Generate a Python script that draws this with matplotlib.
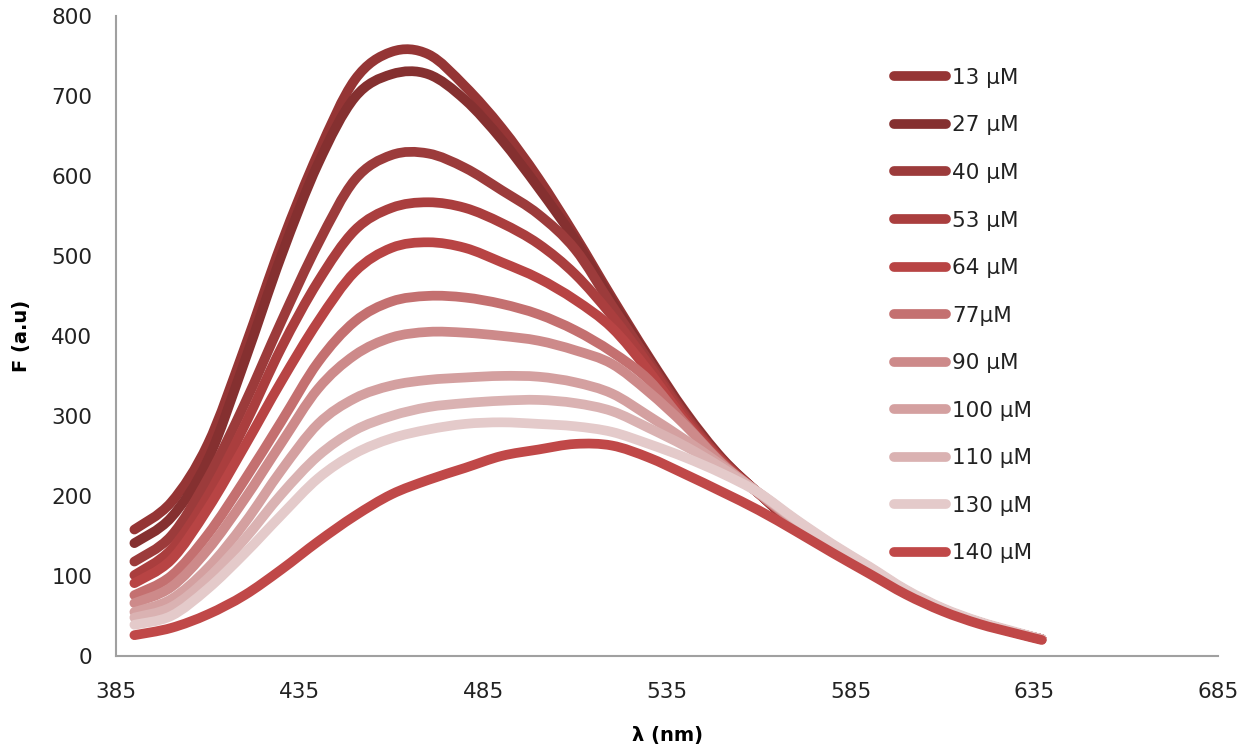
import matplotlib
matplotlib.use("Agg")
import matplotlib.pyplot as plt
from matplotlib.path import Path
from matplotlib.patches import PathPatch
from matplotlib.lines import Line2D

plt.rcParams['font.family'] = ['DejaVu Sans']

# wavelengths (nm)
wl = [390, 400, 410, 420, 430, 440, 450, 460, 470, 480, 490, 500, 510,
      520, 530, 540, 550, 560, 570, 580, 590, 600, 610, 620, 630, 637]

labels = ['13 µM', '27 µM', '40 µM', '53 µM', '64 µM', '77µM', '90 µM',
          '100 µM', '110 µM', '130 µM', '140 µM']

f13 = [158, 192, 265, 385, 515, 628, 720, 755, 752, 712, 660, 597, 525,
       448, 374, 305, 247, 203, 162, 132, 105, 79, 58, 42, 29, 21]
f27 = [141, 173, 245, 368, 500, 615, 698, 727, 727, 695, 645, 585, 520,
       444, 372, 303, 246, 203, 163, 133, 106, 79, 58, 42, 29, 21]
f40 = [118, 150, 222, 315, 418, 515, 595, 626, 628, 610, 582, 552, 508,
       438, 369, 301, 245, 203, 164, 134, 106, 80, 58, 42, 29, 21]
f53 = [101, 133, 200, 288, 385, 468, 532, 560, 567, 560, 541, 515, 477,
       425, 364, 298, 244, 203, 165, 134, 107, 80, 58, 42, 29, 21]
f64 = [91, 120, 184, 262, 343, 418, 480, 510, 517, 510, 492, 472, 445,
       410, 356, 294, 243, 203, 166, 135, 107, 80, 58, 42, 29, 21]
f77 = [76, 100, 152, 220, 293, 367, 418, 443, 450, 448, 440, 427, 407,
       380, 345, 290, 241, 203, 167, 136, 108, 81, 58, 42, 29, 21]
f90 = [66, 86, 133, 196, 266, 334, 376, 398, 405, 404, 400, 394, 382,
       365, 330, 288, 240, 203, 168, 137, 109, 81, 59, 42, 29, 21]
f100 = [55, 71, 110, 166, 232, 290, 322, 338, 345, 348, 350, 349, 342,
        328, 300, 270, 238, 204, 169, 138, 110, 82, 59, 42, 29, 21]
f110 = [48, 61, 97, 146, 202, 250, 282, 300, 311, 316, 319, 320, 316,
        306, 285, 262, 235, 204, 170, 139, 111, 82, 59, 42, 29, 21]
f130 = [39, 50, 84, 128, 176, 222, 253, 272, 283, 290, 292, 290, 287,
        280, 265, 248, 228, 204, 171, 140, 112, 83, 60, 43, 30, 21]
f140 = [26, 35, 52, 76, 108, 143, 175, 202, 220, 235, 250, 258, 265,
        263, 248, 227, 205, 182, 156, 129, 103, 77, 56, 40, 28, 20]

series = [f13, f27, f40, f53, f64, f77, f90, f100, f110, f130, f140]
colors = ['#953535', '#853030', '#9c3b3b', '#aa3e3e', '#b84444', '#c47070',
          '#cd8a8a', '#d4a0a0', '#dab2b2', '#e4caca', '#c04848']


def smooth_path(x, y):
    # smoothed line like a spreadsheet chart: cubic Bezier segments
    pts = list(zip(x, y))
    verts = [pts[0]]
    codes = [Path.MOVETO]
    n = len(pts)
    for i in range(n - 1):
        p0 = pts[max(i - 1, 0)]
        p1 = pts[i]
        p2 = pts[i + 1]
        p3 = pts[min(i + 2, n - 1)]
        c1 = (p1[0] + (p2[0] - p0[0]) / 6, p1[1] + (p2[1] - p0[1]) / 6)
        c2 = (p2[0] - (p3[0] - p1[0]) / 6, p2[1] - (p3[1] - p1[1]) / 6)
        verts += [c1, c2, p2]
        codes += [Path.CURVE4] * 3
    return Path(verts, codes)


fig = plt.figure(figsize=(12.57, 7.54), dpi=100)
ax = fig.add_axes([0.0923, 0.130, 0.8767, 0.849])

handles = []
for y, c, lab in zip(series, colors, labels):
    patch = PathPatch(smooth_path(wl, y), facecolor='none', edgecolor=c,
                      lw=7, capstyle='round', joinstyle='round')
    ax.add_patch(patch)
    handles.append(Line2D([], [], color=c, lw=7, solid_capstyle='round',
                          label=lab))

ax.set_xlim(385, 685)
ax.set_ylim(0, 800)
ax.set_xticks([385, 435, 485, 535, 585, 635, 685])
ax.set_yticks(range(0, 801, 100))
ax.tick_params(axis='both', length=0, labelsize=15.5, colors='#222222')
ax.tick_params(axis='x', pad=19)
ax.tick_params(axis='y', pad=17)

for s in ['top', 'right']:
    ax.spines[s].set_visible(False)
for s in ['left', 'bottom']:
    ax.spines[s].set_color('#a0a0a0')
    ax.spines[s].set_linewidth(1.5)

ax.set_xlabel('λ (nm)', fontsize=14, fontweight='bold', labelpad=17)
ax.set_ylabel('F (a.u)', fontsize=14, fontweight='bold', labelpad=15)

leg = ax.legend(handles=handles, loc='upper left',
                bbox_to_anchor=(0.7115, 0.910),
                bbox_transform=fig.transFigure, frameon=False,
                fontsize=15.5, handlelength=2.4, handletextpad=0.3,
                labelspacing=1.28, borderpad=0, borderaxespad=0)
for t in leg.get_texts():
    t.set_color('#222222')

fig.savefig('out.png', dpi=100)
